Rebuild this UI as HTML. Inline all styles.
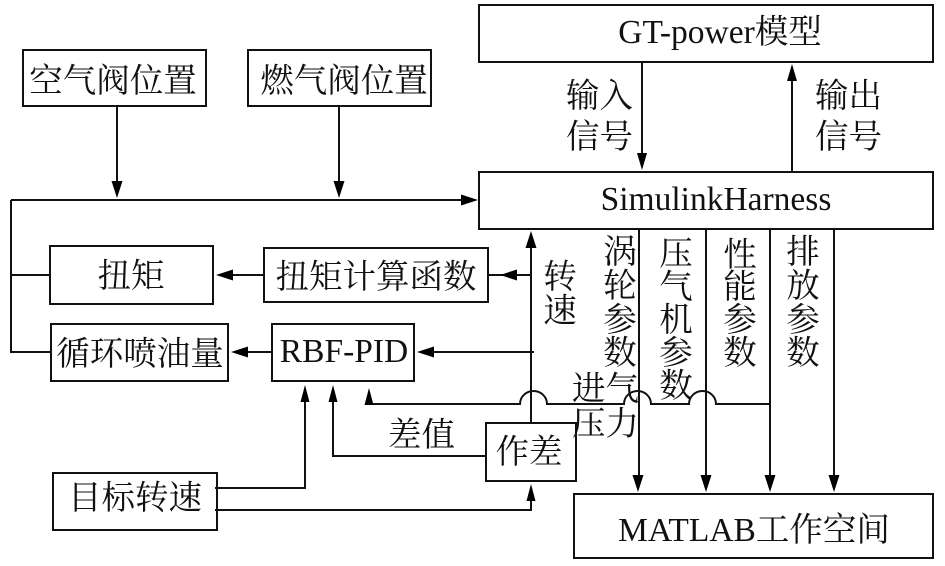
<!DOCTYPE html>
<html><head><meta charset="utf-8"><style>
html,body{margin:0;padding:0;background:#fff}
svg{display:block}
text{font-family:"Liberation Serif","Noto Serif CJK SC",serif;font-size:33.500px;fill:#111}
.m{text-anchor:middle}
</style></head><body>
<svg width="945" height="566" viewBox="0 0 945 566" xmlns="http://www.w3.org/2000/svg">
<g fill="none" stroke="#111" stroke-width="2">
<rect x="479" y="5" width="454" height="57"/>
<rect x="479" y="172" width="454" height="57"/>
<rect x="23" y="50" width="183" height="56"/>
<rect x="248" y="50" width="183" height="56"/>
<rect x="50" y="246" width="163" height="58"/>
<rect x="264" y="248" width="224" height="54"/>
<rect x="51" y="324" width="177" height="57"/>
<rect x="272" y="324" width="142" height="57"/>
<rect x="486" y="423" width="90" height="58"/>
<rect x="53" y="473" width="164" height="57"/>
<rect x="574" y="494" width="359" height="64"/>
<path d="M117 106V186M339 106V186M11 200H466M11 200V352H51M11 275H50M264 275H228M488 275H531M272 352H240M531 422V244M534 352H430"/>
<path d="M642 62V158M792 172V78M639 229V480M706 229V480M770 229V480M834 229V480"/>
<path d="M369 404H520A13.500 13 0 0 1 547 404H624A13.500 13 0 0 1 651 404H689A13.500 13 0 0 1 716 404H770"/>
<path d="M215 488H305V397M486 456H333V397M215 510H531V497"/>
</g>
<g fill="#000">
<path d="M117 198l-5.500-17h11zM339 198l-5.500-17h11zM478 200l-17-5.500v11zM216 275l17-5.500v11zM500 275l17-5.500v11zM231 352l17-5.500v11zM417 352l17-5.500v11zM531 231l-5.500 17h11z"/>
<path d="M642 170l-5-17h10zM792 64l-5 17h10zM638 492l-5.500-17h11zM706 492l-5.500-17h11zM770 492l-5.500-17h11zM834 492l-5.500-17h11z"/>
<path d="M305 385l-4.500 17h9zM333 385l-4.500 17h9zM369 388l-4.500 17h9zM531 484l-4.500 17h9z"/>
</g>
<text class="m" x="720" y="43">GT-power模型</text>
<text class="m" x="716" y="210">SimulinkHarness</text>
<text class="m" x="113" y="92">空气阀位置</text>
<text class="m" x="344" y="92">燃气阀位置</text>
<text class="m" x="131" y="287">扭矩</text>
<text class="m" x="376" y="288">扭矩计算函数</text>
<text class="m" x="140" y="365">循环喷油量</text>
<text class="m" x="344" y="362">RBF-PID</text>
<text class="m" x="529" y="463">作差</text>
<text class="m" x="135" y="509">目标转速</text>
<text class="m" x="754" y="541">MATLAB工作空间</text>
<text x="566" y="107">输入</text>
<text x="566" y="148">信号</text>
<text x="815" y="107">输出</text>
<text x="815" y="148">信号</text>
<text x="388" y="446">差值</text>
<text x="572" y="400">进气</text>
<text x="572" y="435">压力</text>
<text class="m" x="560" y="288">转</text>
<text class="m" x="560" y="322">速</text>
<text class="m" x="620" y="263">涡</text>
<text class="m" x="620" y="297">轮</text>
<text class="m" x="620" y="331">参</text>
<text class="m" x="620" y="364">数</text>
<text class="m" x="676" y="265">压</text>
<text class="m" x="676" y="298">气</text>
<text class="m" x="676" y="331">机</text>
<text class="m" x="676" y="364">参</text>
<text class="m" x="676" y="397">数</text>
<text class="m" x="740" y="266">性</text>
<text class="m" x="740" y="298">能</text>
<text class="m" x="740" y="331">参</text>
<text class="m" x="740" y="364">数</text>
<text class="m" x="803" y="263">排</text>
<text class="m" x="803" y="297">放</text>
<text class="m" x="803" y="331">参</text>
<text class="m" x="803" y="364">数</text>
</svg>
</body></html>
